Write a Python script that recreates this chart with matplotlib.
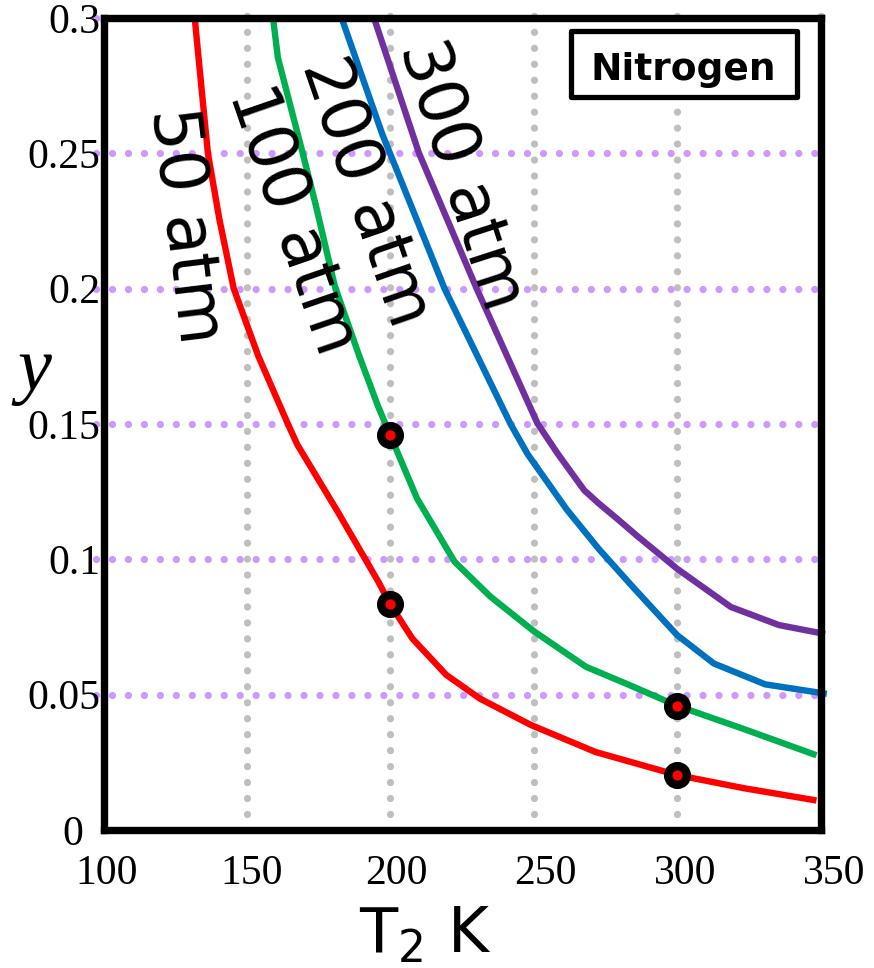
"""
Nitrogen: y vs T2 for several pressures (50-300 atm).
"""

import matplotlib
matplotlib.use("Agg")
import matplotlib.pyplot as plt
from matplotlib.patches import Rectangle
from matplotlib.transforms import ScaledTranslation


# ---------------- data ----------------

t_50 = [131.8, 134.1, 136.4, 140.4, 145.4, 154.0, 164.2, 167.6, 181.7, 196.0, 200.0,
        207.7, 219.5, 231.3, 249.0, 271.6, 300.0, 323.5, 348.6]
y_50 = [0.300, 0.2748, 0.250, 0.2256, 0.200, 0.175, 0.1502, 0.1423, 0.1175, 0.0914, 0.0833,
        0.0707, 0.0573, 0.0485, 0.0388, 0.0288, 0.0203, 0.0154, 0.0109]

t_100 = [159.1, 160.8, 169.4, 173.9, 180.7, 189.2, 195.7, 200.0, 209.3, 222.4, 234.9,
         250.2, 268.2, 282.8, 300.0, 323.5, 348.6]
y_100 = [0.300, 0.2853, 0.2502, 0.2313, 0.2007, 0.175, 0.1566, 0.1458, 0.1225, 0.0991, 0.0862,
         0.0733, 0.0603, 0.0538, 0.0459, 0.0372, 0.0276]

t_200 = [183.0, 197.1, 218.9, 241.9, 247.9, 261.5, 272.7, 284.8, 300.0, 312.8, 330.7, 352.2]
y_200 = [0.300, 0.2573, 0.200, 0.150, 0.1388, 0.1184, 0.1038, 0.0895, 0.0720, 0.0615, 0.0538, 0.0503]

t_300 = [194.3, 210.0, 230.1, 251.3, 258.5, 267.6, 272.7, 279.4, 286.2, 300.0, 318.7, 335.5, 351.6]
y_300 = [0.300, 0.250, 0.200, 0.1502, 0.1388, 0.1255, 0.1206, 0.1147, 0.1085, 0.0965, 0.0824,
         0.0757, 0.0724]

# highlighted points (T, y)
pts_t = [200, 200, 300, 300]
pts_y = [0.1458, 0.0833, 0.0459, 0.0203]

curve_names = ["50 atm", "100 atm", "200 atm", "300 atm"]
curve_colors = ["#ff0000", "#00b050", "#0070c0", "#7030a0"]

x_ticks = [100, 150, 200, 250, 300, 350]
y_ticks = [0, 0.05, 0.1, 0.15, 0.2, 0.25, 0.3]
y_tick_labels = ["0", "0.05", "0.1", "0.15", "0.2", "0.25", "0.3"]
x_grid = [150, 200, 250, 300, 350]
y_grid = [0.05, 0.1, 0.15, 0.2, 0.25, 0.3]


# ---------------- layout ----------------

W, H, DPI = 874, 968, 100
label_pos = [(128.6, 0.2232, -83), (166.0, 0.2254, -71), (191.3, 0.2358, -71), (224.9, 0.2420, -72)]
x_label_shift_px = [3, 5, 6, 12, 8, 14]
y_label_shift_px = [-17, 0, 0, 0, 0, 0, 0]

fig = plt.figure(figsize=(W / DPI, H / DPI), dpi=DPI)
ax = fig.add_axes([103.5 / W, (H - 830) / H, (820.5 - 103.5) / W, (830 - 17.8) / H])

ax.set_xlim(100, 350)
ax.set_ylim(0, 0.3)

# dotted grid, drawn slightly past the frame like the original
dots = (0, (0.01, 2.2))
for gx in x_grid:
    ax.plot([gx, gx], [0.006, 0.3033], color="#bfbfbf", lw=5.2, ls=dots,
            dash_capstyle="round", clip_on=False, zorder=1)
for gy in y_grid:
    ax.plot([97.5, 352.5], [gy, gy], color="#cc99ff", lw=5.2, ls=dots,
            dash_capstyle="round", clip_on=False, zorder=1.1)

series = [(t_50, y_50), (t_100, y_100), (t_200, y_200), (t_300, y_300)]
for (tt, yy), c in zip(series, curve_colors):
    ax.plot(tt, yy, color=c, lw=4.6, solid_capstyle="butt", solid_joinstyle="round",
            clip_on=False, zorder=2)

ax.plot(pts_t, pts_y, ls="none", marker="o", ms=13.5, mfc="#ff0000", mec="black",
        mew=6, clip_on=False, zorder=4)

for name, (lx, ly, rot) in zip(curve_names, label_pos):
    ax.text(lx, ly, name, fontsize=48, family="DejaVu Sans", rotation=rot,
            rotation_mode="anchor", ha="center", va="center", zorder=3)

# legend-like box
ax.add_patch(Rectangle((0.6522, 0.9030), 0.3154, 0.0813, transform=ax.transAxes,
                       fill=True, fc="white", ec="black", lw=3.8, joinstyle="round", zorder=5))
ax.text(0.8092, 0.9236, "Nitrogen", transform=ax.transAxes, fontsize=27,
        fontweight="bold", family="DejaVu Sans", ha="center", va="baseline", zorder=6)

# frame + ticks
for s in ax.spines.values():
    s.set_linewidth(5.3)
    s.set_color("black")
    s.set_zorder(3.5)

ax.set_xticks(x_ticks)
ax.set_xticklabels([str(v) for v in x_ticks])
ax.set_yticks(y_ticks)
ax.set_yticklabels(y_tick_labels)
ax.tick_params(axis="both", length=0, labelsize=30)
ax.tick_params(axis="x", pad=18)
ax.tick_params(axis="y", pad=2)
for lab in ax.get_xticklabels() + ax.get_yticklabels():
    lab.set_family("Liberation Serif")
for lab, dx in zip(ax.get_xticklabels(), x_label_shift_px):
    lab.set_transform(lab.get_transform() + ScaledTranslation(dx / DPI, 0, fig.dpi_scale_trans))
for lab, dx in zip(ax.get_yticklabels(), y_label_shift_px):
    lab.set_transform(lab.get_transform() + ScaledTranslation(dx / DPI, 0, fig.dpi_scale_trans))

fig.text(34 / W, (H - 390) / H, "y", fontsize=55, family="Liberation Serif",
         style="italic", ha="center", va="baseline")
fig.text(359 / W, (H - 952.7) / H, r"T$_2$ K", fontsize=45, family="DejaVu Sans",
         ha="left", va="baseline")

fig.savefig("out.png", dpi=DPI)
